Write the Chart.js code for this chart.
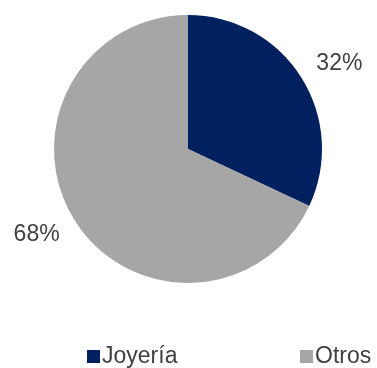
<!DOCTYPE html>
<html>
<head>
<meta charset="utf-8">
<script src="https://cdn.jsdelivr.net/npm/chart.js@4"></script>
<style>
  html, body { margin: 0; padding: 0; background: #fff; }
  #wrap { position: relative; width: 377px; height: 368px; }
  #legend { position: absolute; top: 342px; left: 0; width: 377px; height: 26px;
    font-family: "Liberation Sans", Arial, sans-serif; font-size: 23px; color: #404040; }
  .item { position: absolute; top: 0; line-height: 26px; white-space: nowrap; }
  .box { display: inline-block; width: 13px; height: 13px; margin-right: 2px; vertical-align: 0px; }
</style>
</head>
<body>
<div id="wrap">
  <canvas id="pie_joyeria" width="377" height="368"></canvas>
  <div id="legend"></div>
</div>
<script>
// participación en ventas
var labels = ["Joyería", "Otros"];
var values = [32, 68];
var colors = ["#002060", "#A6A6A6"];

// etiquetas de porcentaje fuera del pastel
var outerLabels = {
  id: 'outerLabels',
  afterDatasetsDraw: function(chart) {
    var ctx = chart.ctx;
    var meta = chart.getDatasetMeta(0);
    ctx.save();
    ctx.font = '23px "Liberation Sans", Arial, sans-serif';
    ctx.fillStyle = '#404040';
    ctx.textAlign = 'center';
    ctx.textBaseline = 'middle';
    meta.data.forEach(function(arc, i) {
      var p = arc.getProps(['x', 'y', 'startAngle', 'endAngle', 'outerRadius'], true);
      var mid = (p.startAngle + p.endAngle) / 2 + 0.05;
      var r = p.outerRadius + 40;
      ctx.fillText(values[i] + '%', p.x + Math.cos(mid) * r, p.y + Math.sin(mid) * r);
    });
    ctx.restore();
  }
};

var ctx = document.getElementById("pie_joyeria");
var myPieChart = new Chart(ctx, {
  type: 'pie',
  data: {
    labels: labels,
    datasets: [{
      backgroundColor: colors,
      borderWidth: 0,
      data: values
    }]
  },
  options: {
    responsive: false,
    animation: false,
    layout: {
      padding: { top: 15, bottom: 85, left: 54, right: 55 }
    },
    plugins: {
      legend: { display: false },
      tooltip: { enabled: false }
    }
  },
  plugins: [outerLabels]
});

// leyenda
var legend = document.getElementById("legend");
var lefts = [87, 300];
labels.forEach(function(l, i) {
  var d = document.createElement('div');
  d.className = 'item';
  d.style.left = lefts[i] + 'px';
  d.innerHTML = '<span class="box" style="background:' + colors[i] + '"></span>' + l;
  legend.appendChild(d);
});
</script>
</body>
</html>
